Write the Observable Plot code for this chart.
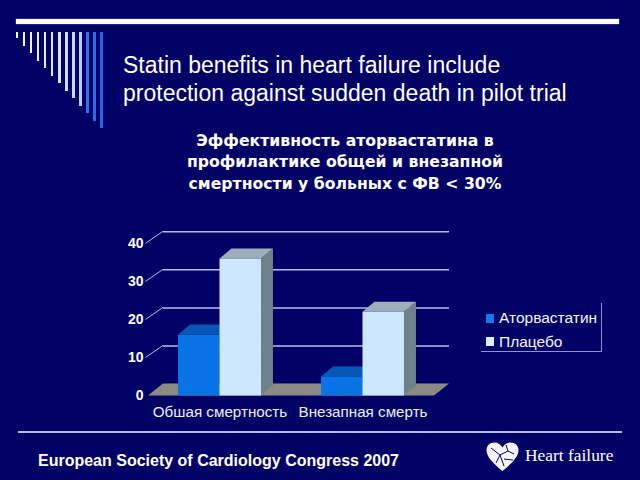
<!DOCTYPE html>
<html>
<head>
<meta charset="utf-8">
<script src="https://cdn.jsdelivr.net/npm/d3@7"></script>
<script src="https://cdn.jsdelivr.net/npm/@observablehq/plot@0.6"></script>
<style>
html, body { margin: 0; padding: 0; background: #020266; }
#slide { position: relative; width: 640px; height: 480px; overflow: hidden; background: #020266;
  font-family: "Liberation Sans", Arial, sans-serif; color: #fff; }
.abs { position: absolute; white-space: nowrap; }
#topline { left: 16px; top: 18.5px; width: 603px; height: 5px; background: #fbfbff; box-shadow: 0 0 1px #c8ccf0; }
#title { left: 123px; top: 51px; font-size: 23px; line-height: 28.4px; color: #fff; }
#subtitle { left: 0; width: 690px; top: 129.5px; text-align: center; font-family: "DejaVu Sans", Verdana, sans-serif;
  font-weight: bold; font-size: 15.7px; line-height: 21.5px; color: #fff; }
#chart { left: 100px; top: 215px; }
#legend-box { left: 481px; top: 303px; width: 120px; height: 48px; border-right: 1px solid #8e94c4; border-bottom: 1px solid #8e94c4; }
.sw { position: absolute; width: 8px; height: 9px; }
.lt { position: absolute; font-size: 15.5px; line-height: 15.5px; color: #f2f4ff; white-space: nowrap; }
#botline { left: 18px; top: 431px; width: 604px; height: 2px; background: #b4bcec; }
#footer { left: 38px; top: 452.5px; font-size: 16px; line-height: 16px; font-weight: bold; color: #fff; }
#hf { left: 525px; top: 446.5px; font-family: "Liberation Serif", "Times New Roman", serif; font-size: 17.4px; line-height: 17.4px; color: #fff; }
#heart { left: 486px; top: 442px; }
</style>
</head>
<body>
<div id="slide">
  <div id="topline" class="abs"></div>
  <div id="deco"></div>
  <div id="title" class="abs">Statin benefits in heart failure include<br>protection against sudden death in pilot trial</div>
  <div id="subtitle" class="abs">Эффективность аторвастатина в<br>профилактике общей и внезапной<br>смертности у больных с ФВ &lt; 30%</div>
  <div id="chart" class="abs"></div>
  <div id="legend-box" class="abs"></div>
  <div id="legend"></div>
  <div id="botline" class="abs"></div>
  <div id="footer" class="abs">European Society of Cardiology Congress 2007</div>
  <svg id="heart" class="abs" width="33" height="30" viewBox="0 0 33 30">
    <path d="M16.5,29 C6,20.5 0.5,14.5 0.5,8 C0.5,3.5 4,0.5 8.5,0.5 C12,0.5 14.8,2.5 16.5,5.5 C18.2,2.5 21,0.5 24.5,0.5 C29,0.5 32.5,3.5 32.5,8 C32.5,14.5 27,20.5 16.5,29 Z" fill="#f4f4fa"/>
    <path d="M5,6 L14,13 L10,21 M14,13 L22,9 L28,12 M22,9 L20,3 M14,13 L18,24 M18,17 L27,18" stroke="#020266" stroke-width="1" fill="none"/>
  </svg>
  <div id="hf" class="abs">Heart failure</div>
</div>
<script>
// ---- data ----
const categories = ["Обшая смертность", "Внезапная смерть"];
const seriesNames = ["Аторвастатин", "Плацебо"];
const atorvastatin = [16, 5];
const placebo = [36, 22];
const yTicks = [0, 10, 20, 30, 40];

// ---- styles ----
const seriesColors = [
  {front: "#0a74e6", top: "#0758b6", side: "#0550a0", legend: "#1a78ea"},
  {front: "#cde7ff", top: "#9eaebb", side: "#6f828c", legend: "#dcecff"}
];
const gridColor = "#b4bcee";
const floorColor = "#8b8b83";
const DX = 15, DY = -12;      // wall depth
const BDX = 12, BDY = -10;    // bar depth

const seriesValues = [atorvastatin, placebo];

function threeD(index, scales, values, dims) {
  const x = scales.x, y = scales.y;
  const bw = x.bandwidth ? x.bandwidth() : (dims.width - dims.marginLeft - dims.marginRight) / categories.length;
  const x0 = dims.marginLeft, x1 = dims.width - dims.marginRight;
  const yb = y(0);
  const g = d3.create("svg:g");
  for (const t of yTicks) {
    if (t === 0) continue;
    g.append("line").attr("x1", x0 - 2.5).attr("y1", y(t)).attr("x2", x0 + DX).attr("y2", y(t) + DY)
      .attr("stroke", gridColor).attr("stroke-width", 1);
  }
  g.append("path")
    .attr("d", `M${x0},${yb}L${x1},${yb}L${x1 + DX},${yb + DY}L${x0 + DX},${yb + DY}Z`)
    .attr("fill", floorColor);
  const barW = bw * 0.29;
  categories.forEach((c, i) => {
    const start = x(c) + (bw - barW * seriesValues.length) / 2;
    seriesValues.forEach((vals, s) => {
      const col = seriesColors[s];
      const l = start + s * barW, r = l + barW, t = y(vals[i]);
      g.append("path").attr("d", `M${r},${t}L${r + BDX},${t + BDY}L${r + BDX},${yb + BDY}L${r},${yb}Z`).attr("fill", col.side);
      g.append("path").attr("d", `M${l},${t}L${r},${t}L${r + BDX},${t + BDY}L${l + BDX},${t + BDY}Z`).attr("fill", col.top);
      g.append("rect").attr("x", l).attr("y", t).attr("width", barW).attr("height", yb - t).attr("fill", col.front);
    });
  });
  return g.node();
}

const chart = Plot.plot({
  width: 370,
  height: 205,
  marginLeft: 48,
  marginRight: 36,
  marginTop: 28.3,
  marginBottom: 24.5,
  style: {background: "transparent", color: "#fff", fontFamily: "'Liberation Sans', Arial, sans-serif", overflow: "visible"},
  x: {type: "band", domain: categories, padding: 0},
  y: {domain: [0, 40]},
  marks: [
    Plot.ruleY(yTicks.filter(d => d > 0), {stroke: gridColor, strokeWidth: 1.5, dx: DX, dy: DY}),
    threeD,
    Plot.axisY(yTicks, {tickSize: 0, tickPadding: 5, fontSize: 14, fontWeight: "bold", fill: "#fff", label: null}),
    Plot.axisX({tickSize: 0, tickPadding: 10.5, fontSize: 15.2, fill: "#eceef8", label: null})
  ]
});
document.getElementById("chart").appendChild(chart);

// legend
const legend = document.getElementById("legend");
seriesNames.forEach((n, i) => {
  const top = 313.5 + i * 23.5;
  const sw = document.createElement("div");
  sw.className = "sw";
  sw.style.left = "486px"; sw.style.top = top + "px"; sw.style.background = seriesColors[i].legend;
  legend.appendChild(sw);
  const t = document.createElement("div");
  t.className = "lt";
  t.style.left = "499px"; t.style.top = (top - 3.2) + "px";
  t.textContent = n;
  legend.appendChild(t);
});

// decorative stripes (top-left)
const deco = document.getElementById("deco");
const stripeColors = ["#f4f2e4","#f4f2e4","#f2f1e6","#eef0ea","#e8ecf2","#e2e8f6","#dae3fa","#d2ddfb","#c6d6fc","#bccefb","#2f72ea","#2a6ce8","#2464e2"];
stripeColors.forEach((c, i) => {
  const d = document.createElement("div");
  d.className = "abs";
  d.style.left = (15.5 + i * 7.07) + "px";
  d.style.top = "31.5px";
  d.style.width = "2.6px";
  d.style.height = (6.5 + i * 7.5) + "px";
  d.style.background = c;
  deco.appendChild(d);
});
</script>
</body>
</html>
